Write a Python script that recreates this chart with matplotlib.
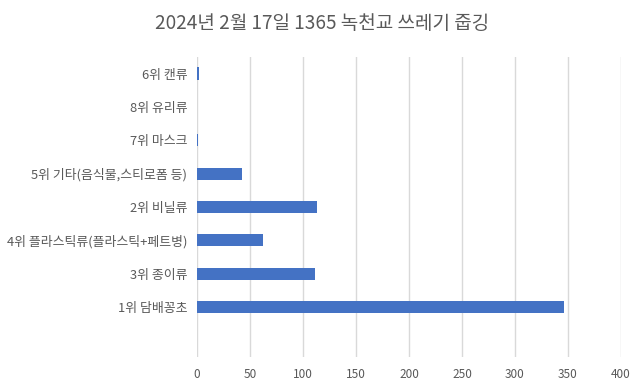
import matplotlib
matplotlib.use("Agg")
import matplotlib.pyplot as plt

plt.rcParams['font.family'] = ['Noto Sans CJK KR', 'DejaVu Sans']

categories = ["1위 담배꽁초", "3위 종이류", "4위 플라스틱류(플라스틱+페트병)", "2위 비닐류",
              "5위 기타(음식물,스티로폼 등)", "7위 마스크", "8위 유리류", "6위 캔류"]
values = [346, 111, 62, 113, 42, 1, 0, 2]
xticks = [0, 50, 100, 150, 200, 250, 300, 350, 400]
title = "2024년 2월 17일 1365 녹천교 쓰레기 줍깅"

fig = plt.figure(figsize=(6.44, 3.88), dpi=100)
ax = fig.add_axes([197/644, 1-357/388, (621-197)/644, (357-57)/388])

pos = list(range(len(categories)))
ax.barh(pos, values, height=0.37, color="#4472C4", zorder=3)
ax.set_yticks(pos)
ax.set_yticklabels(categories, fontsize=9.3, color="#595959")
ax.set_xticks(xticks)
ax.set_xticklabels([str(t) for t in xticks], fontsize=8.5, color="#595959")
ax.set_xlim(0, 400)
ax.set_ylim(-1.5, 7.5)
ax.grid(axis="x", color="#d9d9d9", linewidth=1, zorder=0)
for s in ax.spines.values():
    s.set_visible(False)
ax.tick_params(length=0, pad=7)
ax.tick_params(axis="x", pad=8)
fig.suptitle(title, fontsize=13.7, color="#595959", y=0.967)
fig.savefig("out.png", dpi=100, facecolor="white")
